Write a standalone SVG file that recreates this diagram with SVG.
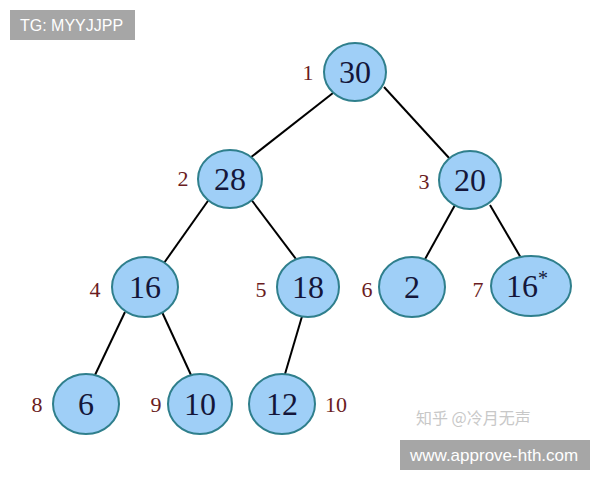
<svg xmlns="http://www.w3.org/2000/svg" width="600" height="480" viewBox="0 0 600 480">
<style>
.n{fill:#9fcff7;stroke:#2f7f8c;stroke-width:2}
.t{font-family:"Liberation Serif",serif;font-size:32px;fill:#14163a;text-anchor:middle}
.l{font-family:"Liberation Serif",serif;font-size:22px;fill:#6a1c22;text-anchor:middle}
.e{stroke:#000;stroke-width:2;fill:none}
.wm{fill:#a6a6a6}
.wt{font-family:"Liberation Sans",sans-serif;font-size:16px;fill:#fff}
</style>
<rect width="600" height="480" fill="#fff"/>
<g id="connectors">
<line class="e" x1="333" y1="93" x2="250" y2="158"/>
<line class="e" x1="384" y1="87" x2="450" y2="159"/>
<line class="e" x1="210" y1="198" x2="164" y2="263"/>
<line class="e" x1="250" y1="198" x2="299" y2="263"/>
<line class="e" x1="455" y1="205" x2="424" y2="261"/>
<line class="e" x1="490" y1="205" x2="521" y2="258"/>
<line class="e" x1="125" y1="312" x2="95" y2="375"/>
<line class="e" x1="162" y1="312" x2="191" y2="375"/>
<line class="e" x1="303" y1="313" x2="285" y2="374"/>
</g>
<g id="n1"><ellipse class="n" cx="355" cy="72" rx="31" ry="29"/><text class="t" x="355" y="83">30</text><text class="l" x="308" y="80">1</text></g>
<g id="n2"><ellipse class="n" cx="230" cy="179" rx="32" ry="29"/><text class="t" x="230" y="190">28</text><text class="l" x="183" y="186">2</text></g>
<g id="n3"><ellipse class="n" cx="470" cy="180" rx="31" ry="29"/><text class="t" x="470" y="191">20</text><text class="l" x="424" y="189">3</text></g>
<g id="n4"><ellipse class="n" cx="145" cy="287" rx="33" ry="30"/><text class="t" x="145" y="298">16</text><text class="l" x="95" y="297">4</text></g>
<g id="n5"><ellipse class="n" cx="308" cy="287" rx="31" ry="30"/><text class="t" x="308" y="298">18</text><text class="l" x="261" y="297">5</text></g>
<g id="n6"><ellipse class="n" cx="412" cy="287" rx="33" ry="30"/><text class="t" x="412" y="298">2</text><text class="l" x="367" y="297">6</text></g>
<g id="n7"><ellipse class="n" cx="531" cy="286" rx="40" ry="30"/><text class="t" x="527" y="297">16<tspan style="font-size:20px" dy="-12">*</tspan></text><text class="l" x="478" y="297">7</text></g>
<g id="n8"><ellipse class="n" cx="86" cy="404" rx="33" ry="30"/><text class="t" x="86" y="415">6</text><text class="l" x="37" y="412">8</text></g>
<g id="n9"><ellipse class="n" cx="200" cy="404" rx="32" ry="30"/><text class="t" x="200" y="415">10</text><text class="l" x="156" y="412">9</text></g>
<g id="n10"><ellipse class="n" cx="282" cy="404" rx="33" ry="30"/><text class="t" x="282" y="415">12</text><text class="l" x="336" y="412">10</text></g>
<g id="watermarks">
<rect class="wm" x="10" y="10" width="125" height="30"/>
<text class="wt" x="20" y="31">TG: MYYJJPP</text>
<text x="416" y="424" font-family="Noto Sans CJK SC,sans-serif" font-size="16" fill="#c8c8c8">知乎 @冷月无声</text>
<rect class="wm" x="400" y="440" width="190" height="30"/>
<text class="wt" x="410" y="461" style="font-size:17px">www.approve-hth.com</text>
</g>
</svg>
